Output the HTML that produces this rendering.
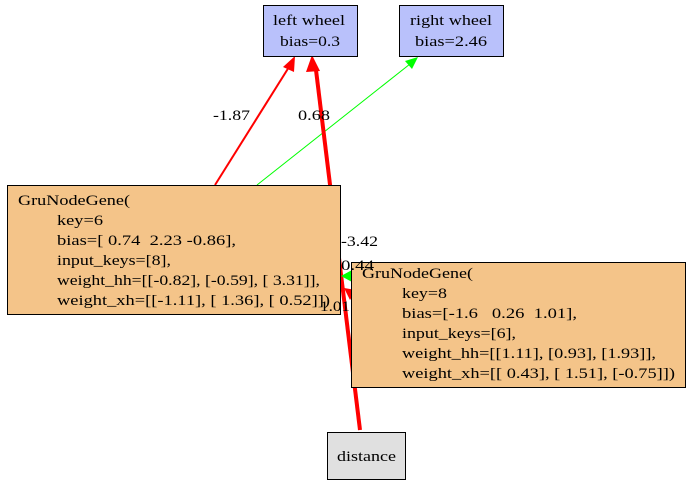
<!DOCTYPE html>
<html><head><style>
body{margin:0;background:#fff;}
svg text{font-family:"Liberation Serif",serif;font-size:15px;fill:#000;}
</style></head><body>
<svg width="692" height="485" viewBox="0 0 692 485" xmlns="http://www.w3.org/2000/svg">
<!-- edges -->
<line x1="215" y1="185" x2="289" y2="67" stroke="#f00" stroke-width="2"/>
<polygon points="295,56 283,67 294,72" fill="#f00"/>
<line x1="257" y1="185" x2="410" y2="64" stroke="#0f0" stroke-width="1"/>
<polygon points="418,57 405,61 412,69" fill="#0f0"/>
<line x1="360" y1="430" x2="316" y2="70" stroke="#f00" stroke-width="4"/>
<polygon points="312,55 306,72 320,71" fill="#f00"/>
<polygon points="341,276 352,270 352,282" fill="#0f0"/>
<polygon points="350,300 344,288 356,290" fill="#f00"/>
<!-- nodes -->
<rect x="263.5" y="5.5" width="94" height="51" fill="#b9c1fb" stroke="#000"/>
<text x="273" y="25" textLength="72" lengthAdjust="spacingAndGlyphs">left wheel</text>
<text x="280" y="46" textLength="60" lengthAdjust="spacingAndGlyphs">bias=0.3</text>
<rect x="399.5" y="5.5" width="104" height="51" fill="#b9c1fb" stroke="#000"/>
<text x="410" y="25" textLength="82" lengthAdjust="spacingAndGlyphs">right wheel</text>
<text x="415" y="46" textLength="72" lengthAdjust="spacingAndGlyphs">bias=2.46</text>
<rect x="7.5" y="185.5" width="333" height="129" fill="#f4c489" stroke="#000"/>
<text x="18" y="205" textLength="112" lengthAdjust="spacingAndGlyphs">GruNodeGene(</text>
<text x="57" y="225" textLength="46" lengthAdjust="spacingAndGlyphs">key=6</text>
<text x="57" y="245" xml:space="preserve" textLength="179" lengthAdjust="spacingAndGlyphs">bias=[ 0.74  2.23 -0.86],</text>
<text x="57" y="265" textLength="114" lengthAdjust="spacingAndGlyphs">input_keys=[8],</text>
<text x="57" y="285" textLength="263" lengthAdjust="spacingAndGlyphs">weight_hh=[[-0.82], [-0.59], [ 3.31]],</text>
<text x="57" y="305" textLength="273" lengthAdjust="spacingAndGlyphs">weight_xh=[[-1.11], [ 1.36], [ 0.52]])</text>
<rect x="351.5" y="262.5" width="334" height="125" fill="#f4c489" stroke="#000"/>
<text x="362" y="278" textLength="111" lengthAdjust="spacingAndGlyphs">GruNodeGene(</text>
<text x="402" y="298" textLength="45" lengthAdjust="spacingAndGlyphs">key=8</text>
<text x="402" y="318" xml:space="preserve" textLength="175" lengthAdjust="spacingAndGlyphs">bias=[-1.6   0.26  1.01],</text>
<text x="402" y="338" textLength="114" lengthAdjust="spacingAndGlyphs">input_keys=[6],</text>
<text x="402" y="358" textLength="254" lengthAdjust="spacingAndGlyphs">weight_hh=[[1.11], [0.93], [1.93]],</text>
<text x="402" y="378" textLength="273" lengthAdjust="spacingAndGlyphs">weight_xh=[[ 0.43], [ 1.51], [-0.75]])</text>
<rect x="327.5" y="432.5" width="78" height="47" fill="#e0e0e0" stroke="#000"/>
<text x="337" y="461" textLength="59" lengthAdjust="spacingAndGlyphs">distance</text>
<!-- labels -->
<text x="213" y="120" textLength="37" lengthAdjust="spacingAndGlyphs">-1.87</text>
<text x="298" y="120" textLength="32" lengthAdjust="spacingAndGlyphs">0.68</text>
<text x="341" y="246" textLength="37" lengthAdjust="spacingAndGlyphs">-3.42</text>
<text x="341" y="270" textLength="33" lengthAdjust="spacingAndGlyphs">0.44</text>
<text x="320" y="311" textLength="30" lengthAdjust="spacingAndGlyphs">1.01</text>
</svg>
</body></html>
